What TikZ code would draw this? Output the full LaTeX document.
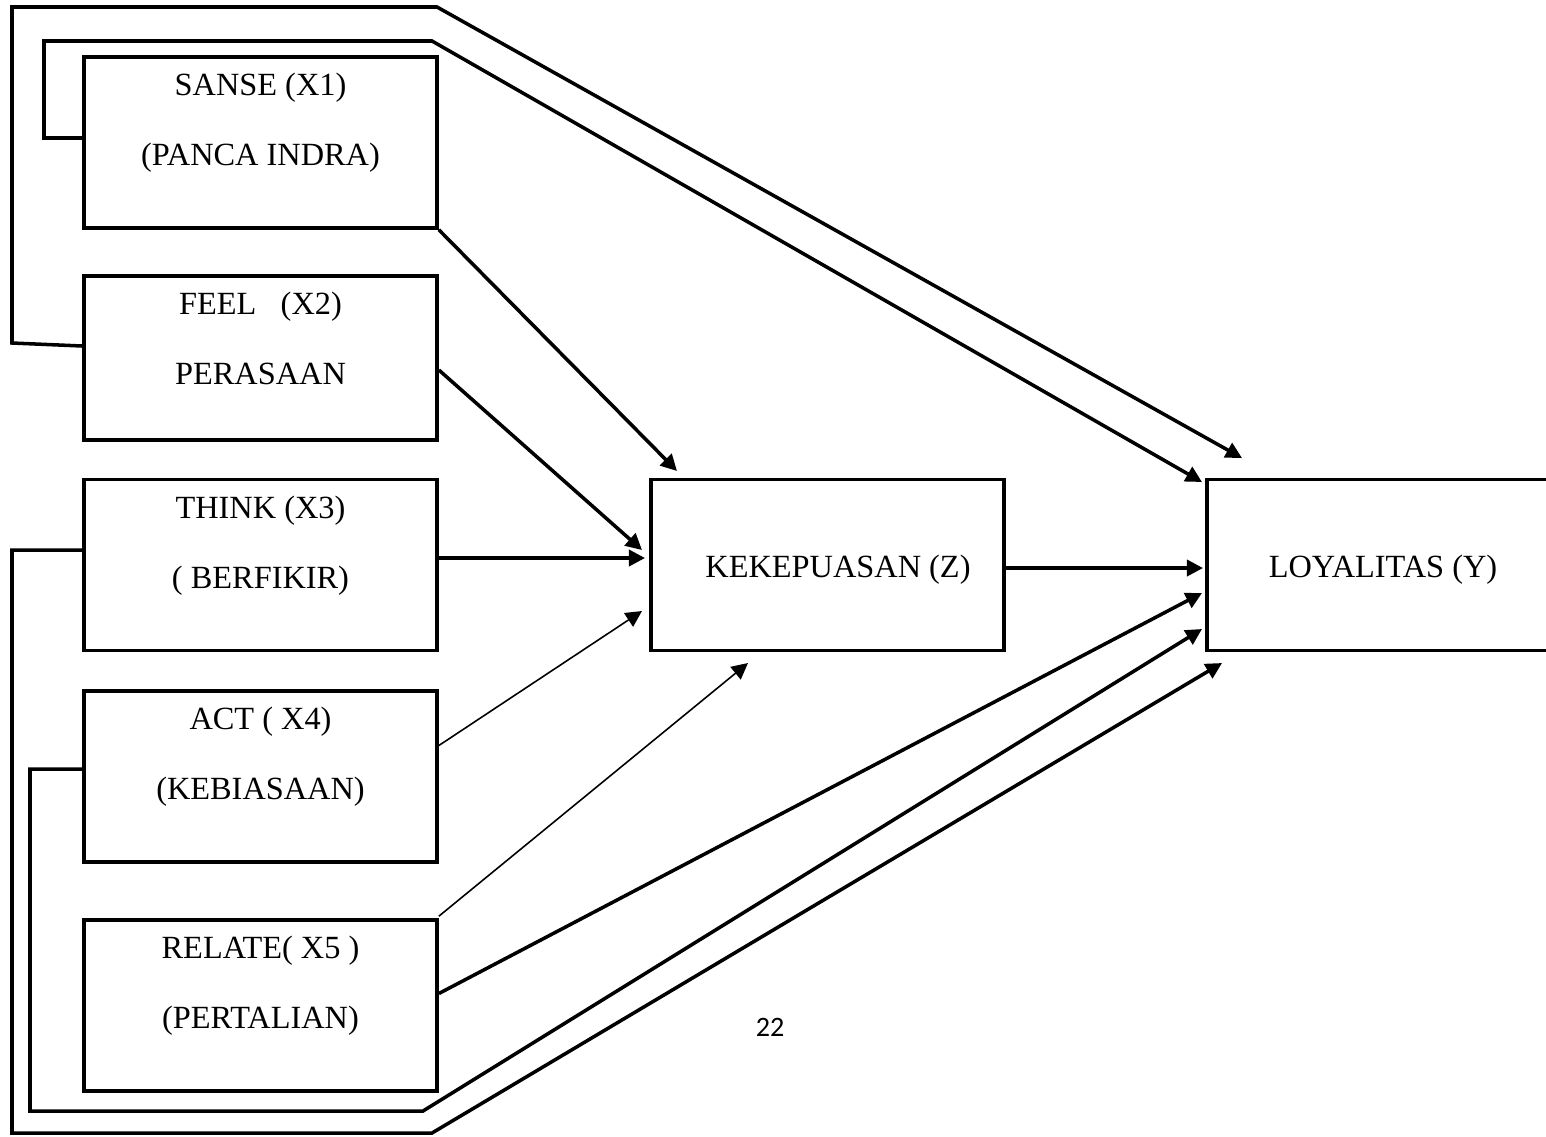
\documentclass[tikz,border=0pt]{standalone}
\usepackage{fontspec}
\setmainfont{Liberation Serif}
\newfontfamily\pagefont{Carlito}
\usetikzlibrary{arrows.meta,calc}

\begin{document}
\begin{tikzpicture}[x=0.01cm,y=-0.01cm,>={Triangle[length=4.6pt,width=4.6pt]},
  line width=1pt,font=\fontsize{9.2}{11}\selectfont,
  varbox/.style={draw,line width=1pt,minimum width=3.53cm,minimum height=1.71cm,inner sep=0pt},
  thinlink/.style={->,line width=0.45pt},
  vlabel/.style={anchor=base,inner sep=0pt}]
  \useasboundingbox (0,0) rectangle (1546,1136);
  % --- variable boxes ---
  \node[varbox] (x1) at (260.5,142.5) {};
  \node[varbox,minimum height=1.64cm] (x2) at (260.5,358) {};
  \node[varbox] (x3) at (260.5,565) {};
  \node[varbox] (x4) at (260.5,776.5) {};
  \node[varbox] (x5) at (260.5,1005.5) {};
  \node[varbox] (z)  at (827.5,565) {};
  \node[varbox] (y)  at (1383.5,565) {};   % right side runs off the page
  % --- box texts ---
  \node[vlabel] (x1a) at ($(x1.north)+(0,40)$)  {SANSE (X1)};
  \node[vlabel] (x1b) at ($(x1.north)+(0,110)$) {(PANCA INDRA)};
  \node[vlabel] (x2a) at ($(x2.north)+(0,40)$)  {FEEL\ \ \ (X2)};
  \node[vlabel] (x2b) at ($(x2.north)+(0,110)$) {PERASAAN};
  \node[vlabel] (x3a) at ($(x3.north)+(0,41)$)  {THINK (X3)};
  \node[vlabel] (x3b) at ($(x3.north)+(0,111)$) {( BERFIKIR)};
  \node[vlabel] (x4a) at ($(x4.north)+(0,40)$)  {ACT ( X4)};
  \node[vlabel] (x4b) at ($(x4.north)+(0,110)$) {(KEBIASAAN)};
  \node[vlabel] (x5a) at ($(x5.north)+(0,40)$)  {RELATE( X5 )};
  \node[vlabel] (x5b) at ($(x5.north)+(0,110)$) {(PERTALIAN)};
  \node[vlabel] (zl)  at (838,577)  {KEKEPUASAN (Z)};
  \node[vlabel] (yl)  at (1383,577) {LOYALITAS (Y)};
  \node[font=\pagefont\fontsize{8}{10}\selectfont] (pg) at (770,1027) {22};
  % --- arrow tips near Z and Y ---
  \coordinate (z1) at (677,471);
  \coordinate (z2) at (642,550);
  \coordinate (z3) at (645,558);
  \coordinate (z4) at (642,611);
  \coordinate (z5) at (748,663);
  \coordinate (y0) at (1242,458);
  \coordinate (y1) at (1202,482);
  \coordinate (y2) at (1203,568);
  \coordinate (y3) at (1202,593);
  \coordinate (y4) at (1202,629);
  \coordinate (y5) at (1222,663);
  % --- direct links to Z ---
  \draw[->] (x1.south east) -- (z1);
  \draw[->] ($(x2.east)+(0,12)$) -- (z2);
  \draw[->] ($(x3.east)+(0,-7)$) -- (z3);
  \draw[thinlink] ($(x4.east)+(0,-31)$) -- (z4);
  \draw[thinlink] ($(x5.north east)+(0,-2)$) -- (z5);
  % --- links to Y ---
  \draw[->] ($(z.east)+(0,3)$) -- (y2);
  \draw[->] ($(x5.east)+(0,-12)$) -- (y3);
  % feedback lines round the left side
  \draw[->] ($(x1.west)+(0,-4.5)$) -| (44,41) -- (432,41) -- (y1);
  \draw[->] ($(x2.west)+(0,-12)$) -- (12,343) -- (12,7) -- (437,7) -- (y0);
  \draw[->] ($(x3.west)+(0,-15)$) -| (12,1133) -- (432,1133) -- (y5);
  \draw[->] ($(x4.west)+(0,-7.5)$) -| (30,1111) -- (423,1111) -- (y4);
\end{tikzpicture}
\end{document}
